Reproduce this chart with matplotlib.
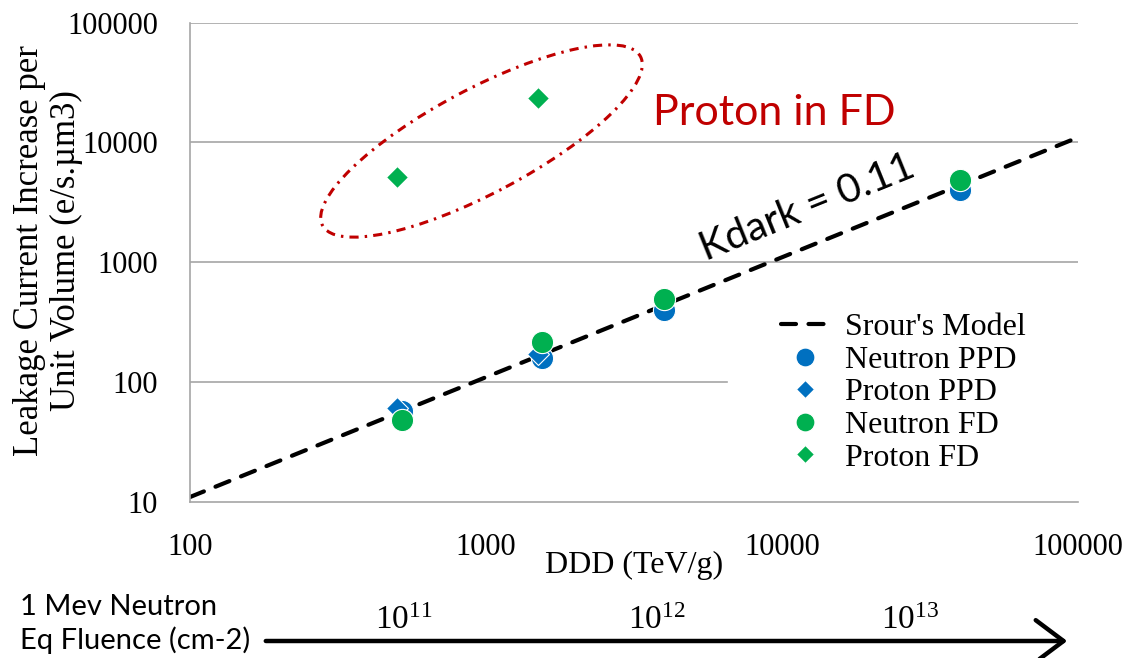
import numpy as np
import matplotlib
matplotlib.use('Agg')
import matplotlib.pyplot as plt
from matplotlib.patches import Ellipse, FancyArrowPatch
from matplotlib.transforms import IdentityTransform

# data
ddd_neutron = [520, 1550, 4000, 40000]
neutron_ppd = [57, 160, 400, 4000]
neutron_fd = [48, 215, 490, 4850]
ddd_proton = [500, 1500]
proton_ppd = [61, 170]
proton_fd = [5100, 23500]
kdark = 0.11
model_x = np.array([100, 100000])
yticks = [10, 100, 1000, 10000, 100000]
xticks = [100, 1000, 10000, 100000]
fluence_labels = ['10^{11}', '10^{12}', '10^{13}']

blue = '#0070C0'
green = '#00B050'
red = '#C00000'
gray = '#A6A6A6'
serif = 'Liberation Serif'
sans = 'Lato'

W, H = 1128, 658
fig = plt.figure(figsize=(W / 100, H / 100), dpi=100)
ax = fig.add_axes([190 / W, (H - 502) / H, 888 / W, 479.5 / H])
ax.set_xscale('log')
ax.set_yscale('log')
ax.set_xlim(100, 100000)
ax.set_ylim(10, 100000)

# horizontal grid, the 100 line stops where the legend sits
for y in yticks[1:]:
    ax.axhline(y, xmax=0.605 if y == 100 else 1, color=gray, lw=1.2, zorder=0)

ax.plot(model_x, kdark * model_x, color='black', lw=3, ls=(0, (3.6, 3.0)),
        dash_capstyle='round', label="Srour's Model", zorder=2)
ax.plot(ddd_neutron, neutron_ppd, 'o', ms=16, color=blue, mec='white', mew=0.8,
        label='Neutron PPD', zorder=3)
ax.plot(ddd_proton, proton_ppd, 'D', ms=11, color=blue, mec='white', mew=0.8,
        label='Proton PPD', zorder=4)
ax.plot(ddd_neutron, neutron_fd, 'o', ms=16, color=green, mec='white', mew=0.8,
        label='Neutron FD', zorder=5)
ax.plot(ddd_proton, proton_fd, 'D', ms=11, color=green, mec='white', mew=0.8,
        label='Proton FD', zorder=5)

for s in ['top', 'right']:
    ax.spines[s].set_visible(False)
for s in ['left', 'bottom']:
    ax.spines[s].set_color(gray)
    ax.spines[s].set_linewidth(1.2)

ax.set_xticks(xticks)
ax.set_xticklabels([str(v) for v in xticks])
ax.set_yticks(yticks)
ax.set_yticklabels([str(v) for v in yticks])
ax.minorticks_off()
ax.tick_params(axis='x', length=0, pad=22, labelsize=22)
ax.tick_params(axis='y', length=0, pad=23, labelsize=22)
for lab in ax.get_xticklabels() + ax.get_yticklabels():
    lab.set_fontfamily(serif)

ax.set_xlabel('DDD (TeV/g)', fontsize=23, family=serif, labelpad=-8)
ax.set_ylabel('Leakage Current Increase per\nUnit Volume (e/s.µm3)', fontsize=25,
              family=serif, linespacing=1.12)
ax.yaxis.label.set_va('center')
ax.yaxis.set_label_coords((48 - 190) / 888, 0.525)

leg = ax.legend(loc='upper left', bbox_to_anchor=(765 / W, 1 - 297 / H),
                bbox_transform=fig.transFigure, frameon=False, borderpad=0,
                prop={'family': serif, 'size': 23}, labelspacing=0.1,
                handlelength=1.5, handletextpad=0.5, markerscale=0.85)

# ellipse round the proton FD points (image pixels)
ell = Ellipse((481.5, H - 141), 360, 104, angle=28, fill=False, ec=red, lw=2.2,
              ls=(0, (3, 2, 0.8, 2)), transform=IdentityTransform(), zorder=1)
ax.add_patch(ell)

fig.text(774 / W, 1 - 113 / H, 'Proton in FD', color=red, fontsize=31, family=sans,
         ha='center', va='center')
fig.text(807 / W, 1 - 208 / H, 'Kdark = 0.11', color='black', fontsize=29, family=sans,
         ha='center', va='center', rotation=22, rotation_mode='anchor')

# fluence axis under the chart
fig.text(20 / W, 1 - 607 / H, '1 Mev Neutron', fontsize=21, family=sans, ha='left', va='center')
fig.text(20 / W, 1 - 640 / H, 'Eq Fluence (cm-2)', fontsize=21, family=sans, ha='left', va='center')
arrow = FancyArrowPatch((263 / W, 1 - 641 / H), (1070 / W, 1 - 641 / H),
                        transform=fig.transFigure, arrowstyle='->,head_length=0.8,head_width=0.6',
                        mutation_scale=25, lw=3.2, color='black')
fig.add_artist(arrow)
for xp, lab in zip([404, 657, 910], fluence_labels):
    fig.text(xp / W, 1 - 621 / H, r'$\mathregular{' + lab + '}$', fontsize=24, family=serif,
             ha='center', va='center')

fig.savefig('out.png', dpi=100)
